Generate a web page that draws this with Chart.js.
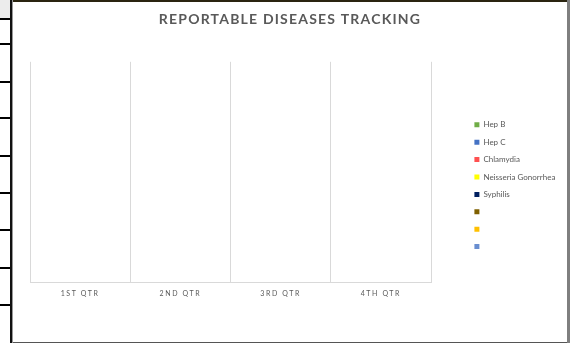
<!DOCTYPE html>
<html>
<head>
<meta charset="utf-8">
<script src="https://cdn.jsdelivr.net/npm/chart.js@4"></script>
<style>
  body { margin: 0; width: 570px; height: 343px; background: #fff; overflow: hidden; position: relative; font-family: Lato, sans-serif; }
  .cell-head { position: absolute; left: 0; top: 0; width: 10px; height: 18px; background: #ececec; }
  .row-line { position: absolute; left: 0; width: 10px; height: 2px; background: #000; }
  .vline { position: absolute; left: 10px; top: 0; width: 2px; height: 343px; background: #111; }
  .vline2 { position: absolute; left: 12px; top: 0; width: 1px; height: 343px; background: #999; }
  .frame { position: absolute; left: 13px; top: 0; width: 554px; height: 340px; border-top: 2px solid #2a2410; border-bottom: 2px solid #555; }
  .rightedge { position: absolute; left: 567px; top: 0; width: 3px; height: 343px; background: #7f7f7f; }
  #wrap { position: absolute; left: 13px; top: 2px; width: 554px; height: 338px; }
</style>
</head>
<body>
<div class="cell-head"></div>
<div class="row-line" style="top:18px"></div>
<div class="row-line" style="top:43px"></div>
<div class="row-line" style="top:81px"></div>
<div class="row-line" style="top:117px"></div>
<div class="row-line" style="top:155px"></div>
<div class="row-line" style="top:192px"></div>
<div class="row-line" style="top:229px"></div>
<div class="row-line" style="top:267px"></div>
<div class="row-line" style="top:304px"></div>
<div class="vline"></div>
<div class="vline2"></div>
<div class="frame"></div>
<div class="rightedge"></div>
<div id="wrap"><canvas id="chart"></canvas></div>
<script>
// quarters on the x axis
const quarters = ["1ST QTR", "2ND QTR", "3RD QTR", "4TH QTR"];

// series names as shown in the legend (last three are blank in the source)
const seriesNames = ["Hep B", "Hep C", "Chlamydia", "Neisseria Gonorrhea", "Syphilis", "", "", ""];

// no values were entered yet, chart is empty
const hepB = [null, null, null, null];
const hepC = [null, null, null, null];
const chlamydia = [null, null, null, null];
const gonorrhea = [null, null, null, null];
const syphilis = [null, null, null, null];
const blank1 = [null, null, null, null];
const blank2 = [null, null, null, null];
const blank3 = [null, null, null, null];

const seriesColors = ["#70ad47", "#4472c4", "#ff5050", "#ffff00", "#002060", "#7f6000", "#ffc000", "#698ed0"];

const allValues = [hepB, hepC, chlamydia, gonorrhea, syphilis, blank1, blank2, blank3];

const datasets = allValues.map(function(vals, i){
    return {
        label: seriesNames[i],
        data: vals,
        backgroundColor: seriesColors[i],
        borderWidth: 0
    };
});

// letter spacing: title and axis labels are spaced out, legend is not
const spacingPlugin = {
    id: "spacing",
    beforeDraw(chart){
        const ctx = chart.ctx;
        function wrap(obj, fn, sp){
            if(!obj || obj["_sp_" + fn]) return;
            const orig = obj[fn];
            obj[fn] = function(){
                ctx.save();
                ctx.letterSpacing = sp;
                orig.apply(this, arguments);
                ctx.restore();
            };
            obj["_sp_" + fn] = true;
        }
        wrap(chart.titleBlock, "draw", "1.2px");
        wrap(chart.scales.x, "drawLabels", "1.6px");
    }
};

new Chart("chart", {
    type: "bar",
    data: {
        labels: quarters,
        datasets: datasets
    },
    plugins: [spacingPlugin],
    options: {
        responsive: true,
        maintainAspectRatio: false,
        animation: false,
        layout: {
            padding: {left: 2, right: 2, top: 0, bottom: 35}
        },
        plugins: {
            title: {
                display: true,
                text: "REPORTABLE DISEASES TRACKING",
                color: "#595959",
                font: {family: "Lato", size: 14, weight: "bold"},
                padding: {top: 9, bottom: 34}
            },
            legend: {
                position: "right",
                fullSize: false,
                align: "start",
                maxWidth: 100,
                title: {
                    display: true,
                    text: " ",
                    font: {size: 8},
                    padding: {top: 40, bottom: 0}
                },
                labels: {
                    boxWidth: 5,
                    boxHeight: 5,
                    padding: 9.4,
                    color: "#595959",
                    font: {family: "Lato", size: 8}
                }
            },
            tooltip: {enabled: false}
        },
        scales: {
            x: {
                grid: {
                    display: true,
                    color: "#d9d9d9",
                    drawTicks: false,
                    offset: true
                },
                border: {color: "#d9d9d9"},
                ticks: {
                    color: "#595959",
                    font: {family: "Lato", size: 7},
                    padding: 7
                }
            },
            y: {
                display: true,
                min: 0,
                max: 1,
                grid: {display: false},
                border: {display: false},
                ticks: {display: false},
                afterFit: function(scale){ scale.width = 15; }
            },
            spacer: {
                position: "right",
                display: true,
                grid: {display: false},
                border: {display: false},
                ticks: {display: false},
                afterFit: function(scale){ scale.width = 34; }
            }
        }
    }
});
</script>
</body>
</html>
